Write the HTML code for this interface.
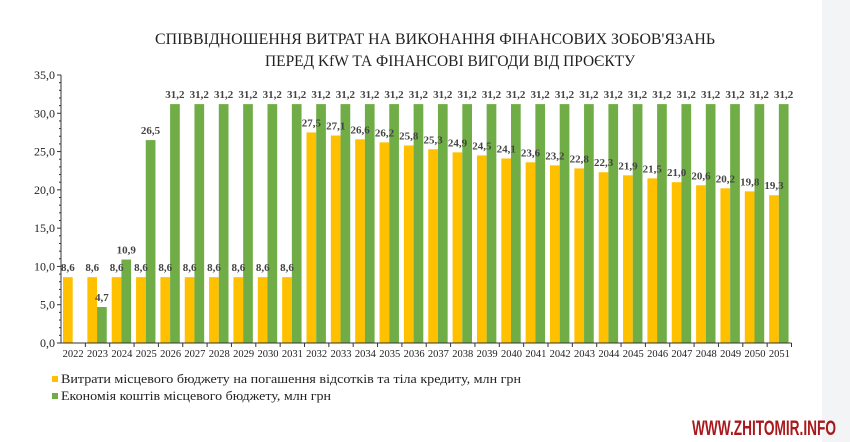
<!DOCTYPE html>
<html><head><meta charset="utf-8"><style>
html,body{margin:0;padding:0;background:#fff;}
body{width:850px;height:442px;overflow:hidden;position:relative;}
#side{position:absolute;left:822px;top:0;width:28px;height:442px;background:#f3f4f6;}
svg{position:absolute;left:0;top:0;}
</style></head><body>
<div id="side"></div>
<svg id="c" width="850" height="442" font-family="Liberation Serif, serif">
<text x="435" y="44" text-anchor="middle" font-size="16" fill="#222" textLength="560" lengthAdjust="spacingAndGlyphs">СПІВВІДНОШЕННЯ ВИТРАТ НА ВИКОНАННЯ ФІНАНСОВИХ ЗОБОВ'ЯЗАНЬ</text>
<text x="450" y="66" text-anchor="middle" font-size="16" fill="#222" textLength="370" lengthAdjust="spacingAndGlyphs">ПЕРЕД KfW ТА ФІНАНСОВІ ВИГОДИ ВІД ПРОЄКТУ</text>
<rect x="52" y="376" width="6" height="6" fill="#ffc000"/>
<text x="61" y="383" font-size="12.5" fill="#222" textLength="460" lengthAdjust="spacingAndGlyphs">Витрати місцевого бюджету на погашення відсотків та тіла кредиту, млн грн</text>
<rect x="52" y="393" width="6" height="6" fill="#70ad47"/>
<text x="61" y="400" font-size="12.5" fill="#222" textLength="270" lengthAdjust="spacingAndGlyphs">Економія коштів місцевого бюджету, млн грн</text>
<text x="692" y="435" font-family="Liberation Sans, sans-serif" font-weight="bold" font-size="21" fill="#a8181c" textLength="144" lengthAdjust="spacingAndGlyphs">WWW.ZHITOMIR.INFO</text>
</svg>
<script>
var s=document.getElementById('c'),NS='http://www.w3.org/2000/svg';
function el(t,a,tx){var e=document.createElementNS(NS,t);for(var k in a)e.setAttribute(k,a[k]);if(tx!==undefined)e.textContent=tx;s.appendChild(e);return e;}
var x0=61,w=24.35,y0=343,k=7.657;
var Y=[8.6,8.6,8.6,8.6,8.6,8.6,8.6,8.6,8.6,8.6,27.5,27.1,26.6,26.2,25.8,25.3,24.9,24.5,24.1,23.6,23.2,22.8,22.3,21.9,21.5,21.0,20.6,20.2,19.8,19.3];
var G=[0,4.7,10.9,26.5];for(var i=4;i<30;i++)G.push(31.2);
function f(v){return v.toFixed(1).replace('.',',');}
for(var i=0;i<30;i++){
 var cx=x0+i*w;
 var h=Y[i]*k;el('rect',{x:cx+2,y:y0-h,width:9.7,height:h,fill:'#ffc000'});
 if(G[i]>0){var g=G[i]*k;el('rect',{x:cx+11.7,y:y0-g,width:9.7,height:g,fill:'#70ad47'});}
 el('text',{x:cx+w/2,y:357,'text-anchor':'middle','font-size':'10.5',fill:'#222'},String(2022+i));
 el('line',{x1:cx+w,y1:y0,x2:cx+w,y2:y0+4,stroke:'#333'});
}
for(var i=0;i<30;i++){
 var cx=x0+i*w,h=Y[i]*k;
 el('text',{x:cx+6.9,y:y0-h-6,'text-anchor':'middle','font-size':'11','font-weight':'bold',fill:'#444'},f(Y[i]));
 if(G[i]>0){var g=G[i]*k;el('text',{x:cx+16.5,y:y0-g-6,'text-anchor':'middle','font-size':'11','font-weight':'bold',fill:'#444'},f(G[i]));}
}
el('line',{x1:x0,y1:y0,x2:x0+30*w,y2:y0,stroke:'#333'});
el('line',{x1:x0,y1:75,x2:x0,y2:y0,stroke:'#333'});
for(var v=0;v<=35;v++){var yy=y0-v*k;el('line',{x1:x0-(v%5?2:4),y1:yy,x2:x0,y2:yy,stroke:'#333'});
 if(v%5==0)el('text',{x:55,y:yy+4,'text-anchor':'end','font-size':'12',fill:'#222'},v+',0');}
</script>
</body></html>
